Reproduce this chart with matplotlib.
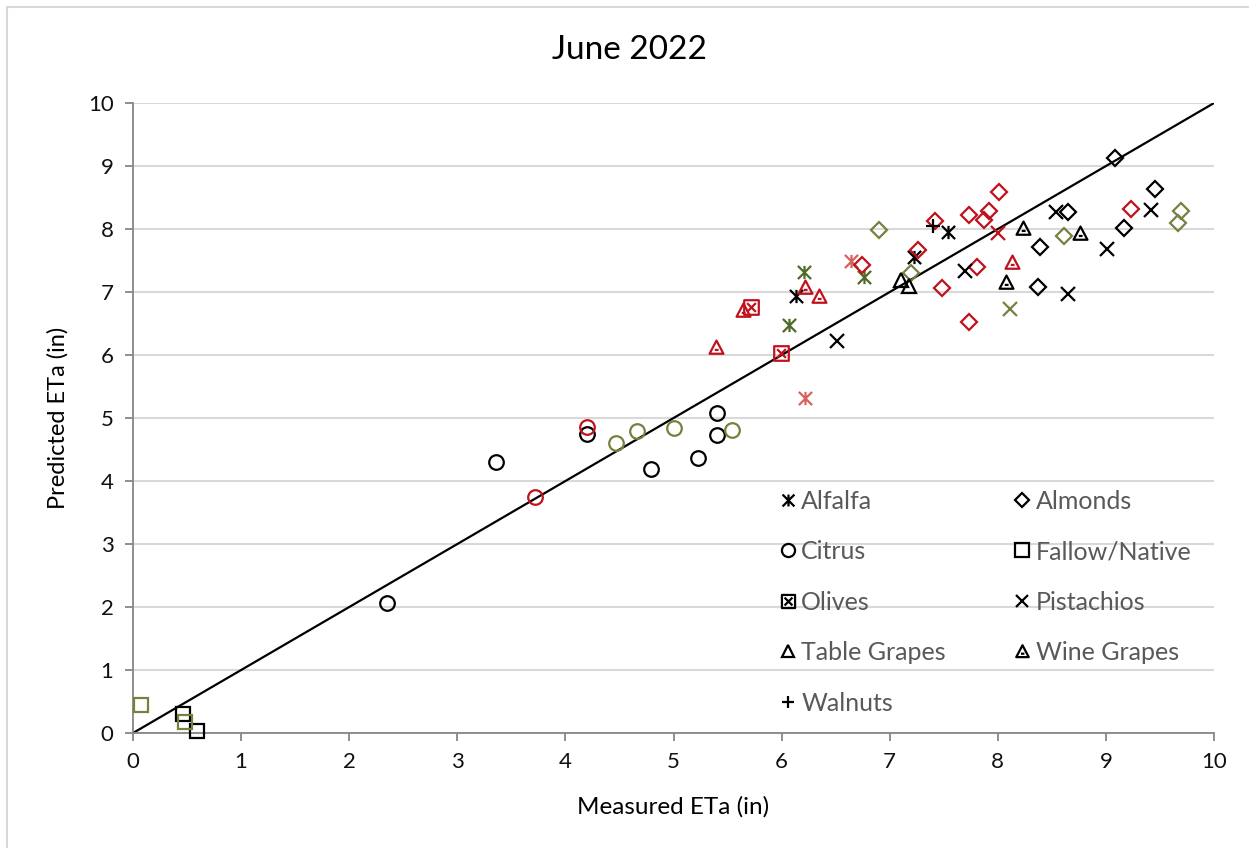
import numpy as np
import matplotlib
matplotlib.use('Agg')
import matplotlib.pyplot as plt
from matplotlib.path import Path
from matplotlib.lines import Line2D
from matplotlib.patches import Rectangle

plt.rcParams['font.family'] = ['Lato', 'DejaVu Sans']

# colours used in the source chart
BLACK = '#000000'
RED = '#C0121C'
OLIVE = '#77803F'
GREEN = '#4F6B2A'
SALMON = '#D6625E'

# ---------------- data (measured, predicted) ----------------
alfalfa_black_x = [6.13, 7.22, 7.54]
alfalfa_black_y = [6.94, 7.55, 7.96]
alfalfa_green_x = [6.21, 6.07, 6.76]
alfalfa_green_y = [7.32, 6.48, 7.24]
alfalfa_salmon_x = [6.22, 6.64]
alfalfa_salmon_y = [5.32, 7.50]

almonds_black_x = [8.39, 8.37, 8.65, 9.17, 9.08, 9.45]
almonds_black_y = [7.71, 7.08, 8.27, 8.02, 9.12, 8.64]
almonds_red_x = [6.74, 7.42, 7.26, 7.48, 7.73, 7.81, 7.73, 7.87, 7.92, 8.01, 9.23]
almonds_red_y = [7.43, 8.12, 7.66, 7.06, 6.53, 7.40, 8.22, 8.14, 8.29, 8.58, 8.32]
almonds_olive_x = [6.90, 7.20, 8.61, 9.69, 9.67]
almonds_olive_y = [7.98, 7.30, 7.89, 8.29, 8.10]

citrus_black_x = [2.35, 3.36, 4.20, 4.79, 5.23, 5.40, 5.40]
citrus_black_y = [2.06, 4.30, 4.75, 4.19, 4.37, 5.08, 4.73]
citrus_red_x = [3.72, 4.20]
citrus_red_y = [3.75, 4.86]
citrus_olive_x = [4.47, 4.66, 5.00, 5.54]
citrus_olive_y = [4.60, 4.79, 4.84, 4.81]

fallow_black_x = [0.46, 0.59]
fallow_black_y = [0.30, 0.03]
fallow_olive_x = [0.07, 0.48]
fallow_olive_y = [0.44, 0.17]

olives_red_x = [5.72, 5.99]
olives_red_y = [6.77, 6.03]

pistachios_black_x = [6.51, 7.70, 8.54, 8.65, 9.01, 9.42]
pistachios_black_y = [6.22, 7.33, 8.27, 6.97, 7.68, 8.30]
pistachios_red_x = [8.00]
pistachios_red_y = [7.93]
pistachios_olive_x = [8.11]
pistachios_olive_y = [6.73]

table_black_x = [7.10, 7.18]
table_black_y = [7.19, 7.10]

wine_black_x = [8.23, 8.08, 8.76]
wine_black_y = [8.02, 7.16, 7.94]
wine_red_x = [5.39, 5.64, 6.22, 6.35, 8.13]
wine_red_y = [6.13, 6.71, 7.08, 6.93, 7.47]

walnuts_black_x = [7.40]
walnuts_black_y = [8.05]

# ---------------- custom markers ----------------
M, L, C = Path.MOVETO, Path.LINETO, Path.CLOSEPOLY
star_mk = Path([(-1, -1), (1, 1), (-1, 1), (1, -1), (0, -1), (0, 1)],
               [M, L, M, L, M, L])
wine_mk = Path([(0, 1), (-1, -0.9), (1, -0.9), (0, 1), (-0.25, -0.35), (0.3, -0.35)],
               [M, L, L, C, M, L])
olive_mk = Path([(-1, -1), (1, -1), (1, 1), (-1, 1), (-1, -1),
                 (-0.6, -0.6), (0.6, 0.6), (-0.6, 0.6), (0.6, -0.6)],
                [M, L, L, L, C, M, L, M, L])

# crop -> marker, size
styles = {
    'Alfalfa': (star_mk, 9.5),
    'Almonds': ('D', 8),
    'Citrus': ('o', 10.5),
    'Fallow/Native': ('s', 10.5),
    'Olives': (olive_mk, 10.5),
    'Pistachios': ('x', 9.5),
    'Table Grapes': ('^', 10),
    'Wine Grapes': (wine_mk, 10),
    'Walnuts': ('+', 10),
}

series = [
    ('Alfalfa', alfalfa_black_x, alfalfa_black_y, BLACK),
    ('Alfalfa', alfalfa_green_x, alfalfa_green_y, GREEN),
    ('Alfalfa', alfalfa_salmon_x, alfalfa_salmon_y, SALMON),
    ('Almonds', almonds_black_x, almonds_black_y, BLACK),
    ('Almonds', almonds_red_x, almonds_red_y, RED),
    ('Almonds', almonds_olive_x, almonds_olive_y, OLIVE),
    ('Citrus', citrus_black_x, citrus_black_y, BLACK),
    ('Citrus', citrus_red_x, citrus_red_y, RED),
    ('Citrus', citrus_olive_x, citrus_olive_y, OLIVE),
    ('Fallow/Native', fallow_black_x, fallow_black_y, BLACK),
    ('Fallow/Native', fallow_olive_x, fallow_olive_y, OLIVE),
    ('Olives', olives_red_x, olives_red_y, RED),
    ('Pistachios', pistachios_black_x, pistachios_black_y, BLACK),
    ('Pistachios', pistachios_red_x, pistachios_red_y, RED),
    ('Pistachios', pistachios_olive_x, pistachios_olive_y, OLIVE),
    ('Table Grapes', table_black_x, table_black_y, BLACK),
    ('Wine Grapes', wine_black_x, wine_black_y, BLACK),
    ('Wine Grapes', wine_red_x, wine_red_y, RED),
    ('Walnuts', walnuts_black_x, walnuts_black_y, BLACK),
]

############ Figure ############
fig = plt.figure(figsize=(12.49, 8.48), dpi=100)
ax = fig.add_axes([0.1065, 0.1356, 0.8655, 0.7429])

# chart area border (top/left visible only)
fig.patches.append(Rectangle((7 / 1249, -0.1), 1.2, 1 - 7 / 848 + 0.1,
                             transform=fig.transFigure, fill=False,
                             edgecolor='#D9D9D9', linewidth=1.5))

ax.set_xlim(0, 10)
ax.set_ylim(0, 10)
ax.set_xticks(range(0, 11))
ax.set_yticks(range(0, 11))
ax.yaxis.grid(True, color='#D9D9D9', linewidth=1.5)
ax.set_axisbelow(True)
for s in ['top', 'right']:
    ax.spines[s].set_visible(False)
for s in ['left', 'bottom']:
    ax.spines[s].set_color('#868686')
    ax.spines[s].set_linewidth(1.3)
ax.tick_params(axis='both', direction='out', length=6, width=1.3, color='#868686',
               labelsize=16, labelcolor='#111111', pad=8)

# 1:1 line
ax.plot([0, 10], [0, 10], color='black', linewidth=1.6, zorder=2)

for crop, xs, ys, col in series:
    mk, ms = styles[crop]
    ax.plot(xs, ys, linestyle='none', marker=mk, markersize=ms,
            markerfacecolor='none', markeredgecolor=col, markeredgewidth=1.6,
            zorder=3, clip_on=False)

fig.text(0.504, 1 - 50 / 848, 'June 2022', ha='center', va='center', fontsize=24)
ax.set_xlabel('Measured ETa (in)', fontsize=17.5, labelpad=17)
ax.set_ylabel('Predicted ETa (in)', fontsize=17, labelpad=14)

# legend (column-major order so rows read like the original)
order = ['Alfalfa', 'Citrus', 'Olives', 'Table Grapes', 'Walnuts',
         'Almonds', 'Fallow/Native', 'Pistachios', 'Wine Grapes']
handles = []
for name in order:
    mk, ms = styles[name]
    handles.append(Line2D([], [], linestyle='none', marker=mk, markersize=ms * 0.9,
                          markerfacecolor='none', markeredgecolor='black',
                          markeredgewidth=1.6))
leg = ax.legend(handles, order, ncol=2, loc='upper left',
                bbox_to_anchor=(0.587, 0.406), frameon=False, fontsize=18,
                labelspacing=1.1, handlelength=0.6, handletextpad=0.25,
                columnspacing=2.75, borderpad=0)
for t in leg.get_texts():
    t.set_color('#595959')

plt.savefig('out.png', dpi=100)
